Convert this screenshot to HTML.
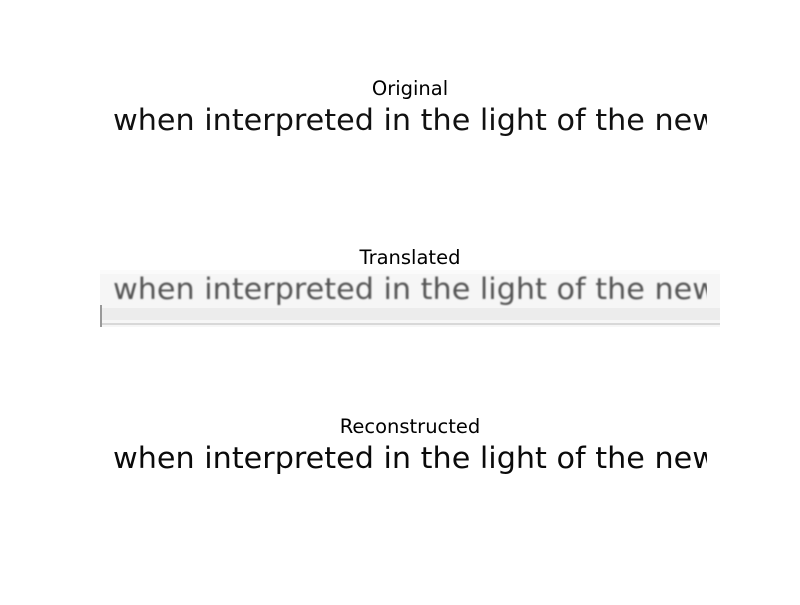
<!DOCTYPE html>
<html><head><meta charset="utf-8"><style>
body{margin:0;background:#fff;width:800px;height:600px;overflow:hidden}
svg text{font-family:"DejaVu Sans","Liberation Sans",sans-serif}
</style></head><body>
<svg width="800" height="600" viewBox="0 0 800 600">
<defs>
<clipPath id="c1"><rect x="108" y="100" width="599" height="42"/></clipPath>
<clipPath id="c2"><rect x="100" y="270" width="620" height="57"/></clipPath>
<clipPath id="c2t"><rect x="100" y="270" width="607" height="57"/></clipPath>
<clipPath id="c3"><rect x="108" y="438" width="599" height="42"/></clipPath>
<filter id="blur"><feGaussianBlur stdDeviation="0.8"/></filter>
</defs>
<text x="410" y="95" font-size="19.5" text-anchor="middle" fill="#000">Original</text>
<g clip-path="url(#c1)">
<text x="113" y="130" font-size="29" textLength="604" lengthAdjust="spacingAndGlyphs" fill="#111">when interpreted in the light of the new</text>
</g>
<text x="410" y="264" font-size="19.5" text-anchor="middle" fill="#000">Translated</text>
<g clip-path="url(#c2)">
<rect x="100" y="270" width="620" height="57" fill="#f6f6f6"/>
<rect x="100" y="270" width="620" height="4" fill="#fbfbfb"/>
<rect x="100" y="308" width="620" height="12" fill="#ececec"/>
<rect x="100" y="323" width="620" height="2" fill="#d8d8d8"/>
<rect x="100" y="305" width="2" height="22" fill="#999"/>
<g clip-path="url(#c2t)">
<text x="113" y="299" font-size="29" textLength="604" lengthAdjust="spacingAndGlyphs" fill="#555" filter="url(#blur)">when interpreted in the light of the new</text>
</g>
</g>
<text x="410" y="433" font-size="19.5" text-anchor="middle" fill="#000">Reconstructed</text>
<g clip-path="url(#c3)">
<text x="113" y="468" font-size="29" textLength="604" lengthAdjust="spacingAndGlyphs" fill="#0a0a0a">when interpreted in the light of the new</text>
</g>
</svg>
</body></html>
